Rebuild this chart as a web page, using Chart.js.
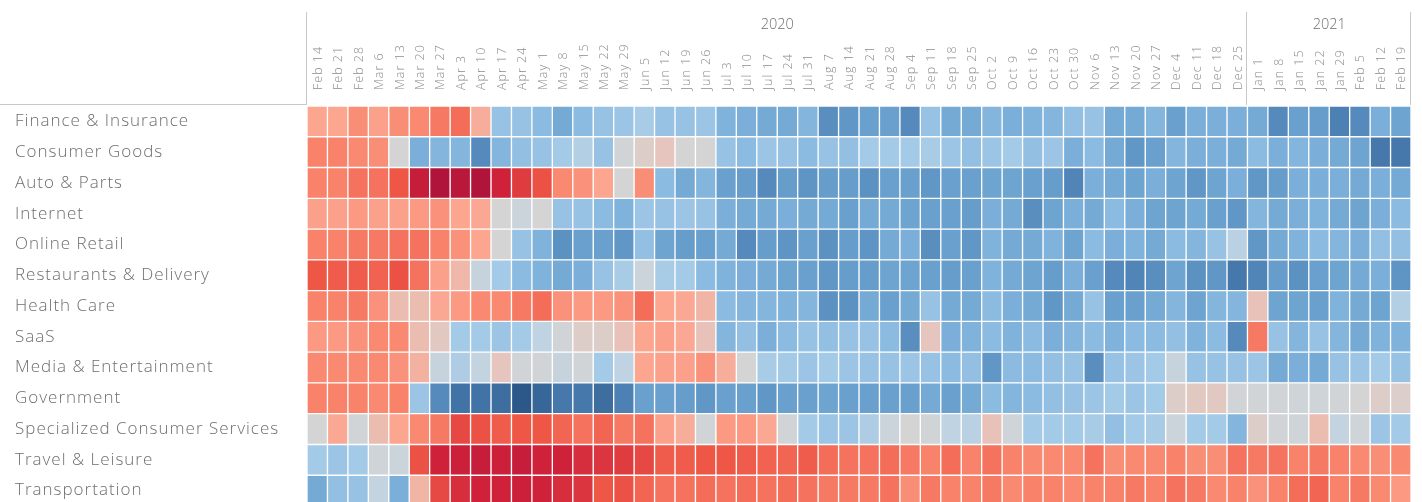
<!DOCTYPE html>
<html>
<head>
<meta charset="utf-8">
<script src="https://cdn.jsdelivr.net/npm/chart.js@4.4.1/dist/chart.umd.min.js"></script>
<style>
  html, body { margin: 0; padding: 0; background: #fff; overflow: hidden; }
  #wrap { position: relative; width: 1422px; height: 506px; }
</style>
</head>
<body>
<div id="wrap"><canvas id="heat"></canvas></div>
<script>
// industries (rows) and weeks (columns)
const industries = ["Finance & Insurance", "Consumer Goods", "Auto & Parts", "Internet", "Online Retail",
    "Restaurants & Delivery", "Health Care", "SaaS", "Media & Entertainment", "Government",
    "Specialized Consumer Services", "Travel & Leisure", "Transportation"];

const weekLabels = ["Feb 14", "Feb 21", "Feb 28", "Mar 6", "Mar 13", "Mar 20", "Mar 27", "Apr 3", "Apr 10",
    "Apr 17", "Apr 24", "May 1", "May 8", "May 15", "May 22", "May 29", "Jun 5", "Jun 12", "Jun 19", "Jun 26",
    "Jul 3", "Jul 10", "Jul 17", "Jul 24", "Jul 31", "Aug 7", "Aug 14", "Aug 21", "Aug 28", "Sep 4",
    "Sep 11", "Sep 18", "Sep 25", "Oct 2", "Oct 9", "Oct 16", "Oct 23", "Oct 30", "Nov 6", "Nov 13",
    "Nov 20", "Nov 27", "Dec 4", "Dec 11", "Dec 18", "Dec 25",
    "Jan 1", "Jan 8", "Jan 15", "Jan 22", "Jan 29", "Feb 5", "Feb 12", "Feb 19"];

const yearLabels = ["2020", "2021"];
const yearWeekCounts = [46, 8];

// change index per industry and week (negative = red, positive = blue)
const financeInsurance = [-30,-30,-40,-32,-40,-42,-48,-52,-25, 30,30,35,45,35, 30,28,22,30,30,28,
    40,42,45,45,38,60,55,50,50,62, 30,45,45,38,42,40,38,32,30,45, 45,38,50,42,42,42, 45,62,50,52,68,62,42,48];
const consumerGoods = [-45,-45,-42,-40,0,42,38,38,62, 38,32,30,25,18, 30,2,-5,-10,0,0,
    30,35,28,30,35,30,32,25,25,25, 22,28,32,28,25,32,28,42,35,45, 55,50,38,42,42,45, 35,42,38,42,45,48,72,72];
const autoParts = [-45,-45,-50,-50,-60,-85,-95,-90,-95, -80,-70,-62,-42,-38, -30,0,-40,35,45,38,
    50,52,62,52,56,52,52,58,50,50, 55,50,50,48,48,50,52,65,42,45, 48,42,48,55,48,42, 55,52,42,42,42,45,42,45];
const internet = [-32,-32,-35,-32,-32,-35,-38,-30,-28, 0,5,0,30,30, 35,40,28,30,28,30,
    42,45,45,42,45,45,50,45,45,48, 50,50,52,42,45,60,48,42,45,35, 42,48,48,45,50,55, 38,45,42,40,45,48,42,35];
const onlineRetail = [-45,-45,-48,-48,-50,-50,-45,-38,-30, 0,30,40,58,50, 50,55,32,48,52,50,
    45,62,52,56,50,58,52,56,45,42, 60,50,55,40,45,45,40,48,35,42, 40,45,35,38,30,15, 55,45,40,35,38,42,32,32];
const restaurants = [-60,-58,-58,-56,-62,-50,-32,-18,8, 25,35,40,45,42, 30,22,5,22,25,35,
    40,42,45,48,50,55,52,52,48,48, 50,52,50,40,45,48,52,42,50,62, 65,60,48,58,55,72, 65,52,58,50,48,45,42,56];
const healthCare = [-45,-45,-48,-38,-15,-15,-28,-35,-42, -42,-48,-52,-38,-35, -35,-38,-52,-30,-28,-20,
    35,38,38,40,38,58,58,45,50,45, 30,45,45,35,42,45,55,45,30,50, 50,45,38,48,38,38, -12,48,48,50,40,45,48,18];
const saas = [-35,-35,-38,-42,-42,-15,-8,25,25, 28,25,12,2,-5, -5,-12,-30,-32,-28,-12,
    38,32,42,35,30,32,30,30,35,60, -10,42,40,35,40,35,42,38,35,40, 35,35,32,40,35,62, -48,30,38,30,38,45,40,40];
const mediaEntertainment = [-42,-42,-42,-42,-38,-22,8,20,10, -10,2,2,8,2, 25,12,-30,-32,-32,-38,
    -25,0,22,25,28,25,28,30,30,28, 30,35,32,55,35,35,32,30,60,30, 28,25,8,30,30,30, 28,45,42,45,30,28,25,30];
const government = [-45,-45,-45,-42,-45,28,62,75,75, 78,90,82,72,72, 78,68,50,50,52,55,
    50,50,55,50,50,48,50,50,50,50, 45,50,45,35,38,35,32,30,28,25, 28,25,-5,-8,-8,2, 2,2,3,3,2,0,-5,-4];
const specializedServices = [0,-28,2,-15,-30,-42,-48,-65,-62, -58,-60,-60,-55,-50, -55,-48,-50,-32,-25,2,
    -35,-35,-28,2,25,28,28,20,5,0, 2,12,15,-12,3,25,25,25,22,32, 25,22,5,25,25,38, -5,2,3,-15,10,3,28,25];
const travelLeisure = [25,28,25,3,5,-62,-80,-82,-85, -82,-85,-80,-80,-75, -72,-70,-65,-58,-58,-60,
    -60,-58,-56,-55,-58,-52,-50,-50,-52,-48, -45,-52,-45,-50,-45,-42,-42,-42,-50,-40, -42,-42,-45,-40,-40,-50, -48,-50,-45,-48,-45,-42,-40,-42];
const transportation = [45,32,30,10,42,-20,-65,-75,-80, -80,-82,-80,-75,-72, -60,-62,-55,-50,-50,-52,
    -50,-52,-50,-52,-50,-48,-48,-48,-50,-40, -48,-45,-45,-48,-42,-45,-45,-42,-45,-45, -48,-45,-50,-48,-42,-45, -38,-45,-52,-55,-45,-48,-42,-35];

const rows = [financeInsurance, consumerGoods, autoParts, internet, onlineRetail, restaurants, healthCare,
    saas, mediaEntertainment, government, specializedServices, travelLeisure, transportation];

// red-grey-blue diverging palette
const stops = [
    [-100, [165, 15, 58]],
    [-80, [207, 33, 58]],
    [-60, [238, 86, 70]],
    [-45, [248, 130, 106]],
    [-30, [252, 165, 143]],
    [-12, [232, 194, 184]],
    [0, [212, 212, 212]],
    [12, [191, 211, 226]],
    [25, [163, 202, 231]],
    [40, [127, 179, 220]],
    [55, [96, 151, 198]],
    [70, [74, 124, 176]],
    [90, [43, 88, 136]],
    [100, [38, 78, 124]]
];

function colorFor(v) {
    for (let i = 1; i < stops.length; i++) {
        if (v <= stops[i][0]) {
            const [a, ca] = stops[i - 1];
            const [b, cb] = stops[i];
            const t = (v - a) / (b - a);
            const c = ca.map((x, k) => Math.round(x + (cb[k] - x) * t));
            return `rgb(${c[0]}, ${c[1]}, ${c[2]})`;
        }
    }
    const c = stops[stops.length - 1][1];
    return `rgb(${c[0]}, ${c[1]}, ${c[2]})`;
}

const fontFamily = "'Open Sans', 'Noto Sans', sans-serif";

// one dataset per week, each cell is one unit of the stacked bar
const datasets = weekLabels.map((w, i) => ({
    label: w,
    data: industries.map(() => 1),
    backgroundColor: rows.map(r => colorFor(r[i])),
    borderColor: "#ffffff",
    borderWidth: 1,
    borderSkipped: false,
    barPercentage: 1,
    categoryPercentage: 1
}));

// wider letter spacing for all text, like the original dashboard font
const spacingPlugin = {
    id: "spacing",
    beforeDraw(chart) { chart.ctx.letterSpacing = "1px"; },
    afterDraw(chart) { chart.ctx.letterSpacing = "0px"; }
};

// year header and separator lines
const headerPlugin = {
    id: "yearHeader",
    afterDraw(chart) {
        const { ctx, chartArea } = chart;
        const x = chart.scales.x;
        ctx.save();
        ctx.strokeStyle = "#c8c8c8";
        ctx.lineWidth = 1;
        ctx.beginPath();
        ctx.moveTo(0, chartArea.top - 1.5);
        ctx.lineTo(chartArea.left, chartArea.top - 1.5);
        let start = 0;
        const edges = [0];
        yearWeekCounts.forEach(n => { start += n; edges.push(start); });
        edges.forEach(e => {
            const px = Math.round(x.getPixelForValue(e)) - 0.5;
            ctx.moveTo(px, 12);
            ctx.lineTo(px, chartArea.top - 1);
        });
        ctx.stroke();

        ctx.fillStyle = "#6f6f6f";
        ctx.font = "300 14.5px " + fontFamily;
        ctx.textAlign = "center";
        ctx.textBaseline = "middle";
        yearLabels.forEach((y, i) => {
            const mid = (x.getPixelForValue(edges[i]) + x.getPixelForValue(edges[i + 1])) / 2;
            ctx.fillText(y, mid, 25);
        });
        ctx.restore();
    }
};

new Chart(document.getElementById("heat"), {
    type: "bar",
    data: { labels: industries, datasets: datasets },
    options: {
        indexAxis: "y",
        responsive: true,
        maintainAspectRatio: false,
        animation: false,
        layout: { padding: { left: 15, right: 11, top: 0, bottom: 0 } },
        plugins: {
            legend: { display: false },
            tooltip: {
                callbacks: {
                    label: (c) => `${c.dataset.label}: ${rows[c.dataIndex][c.datasetIndex]}`
                }
            }
        },
        scales: {
            x: {
                type: "linear",
                display: false,
                stacked: true,
                min: 0,
                max: weekLabels.length
            },
            xWeeks: {
                type: "category",
                axis: "x",
                labels: weekLabels,
                position: "top",
                offset: true,
                grid: { display: false, drawTicks: false },
                border: { display: false },
                afterFit: (scale) => { scale.height = 106; },
                ticks: {
                    autoSkip: false,
                    minRotation: 90,
                    maxRotation: 90,
                    padding: 16,
                    labelOffset: 16,
                    color: "#8c8c8c",
                    font: { family: fontFamily, size: 12.5, weight: "300" }
                }
            },
            y: {
                stacked: true,
                grid: { display: false, drawTicks: false },
                border: { display: false },
                afterFit: (scale) => {
                    scale.width = 292;
                    scale.paddingTop = 0;
                    scale.paddingBottom = 0;
                },
                ticks: {
                    crossAlign: "far",
                    padding: 0,
                    color: "#6e6e6e",
                    font: { family: fontFamily, size: 17, weight: "300" }
                }
            }
        }
    },
    plugins: [spacingPlugin, headerPlugin]
});
</script>
</body>
</html>
